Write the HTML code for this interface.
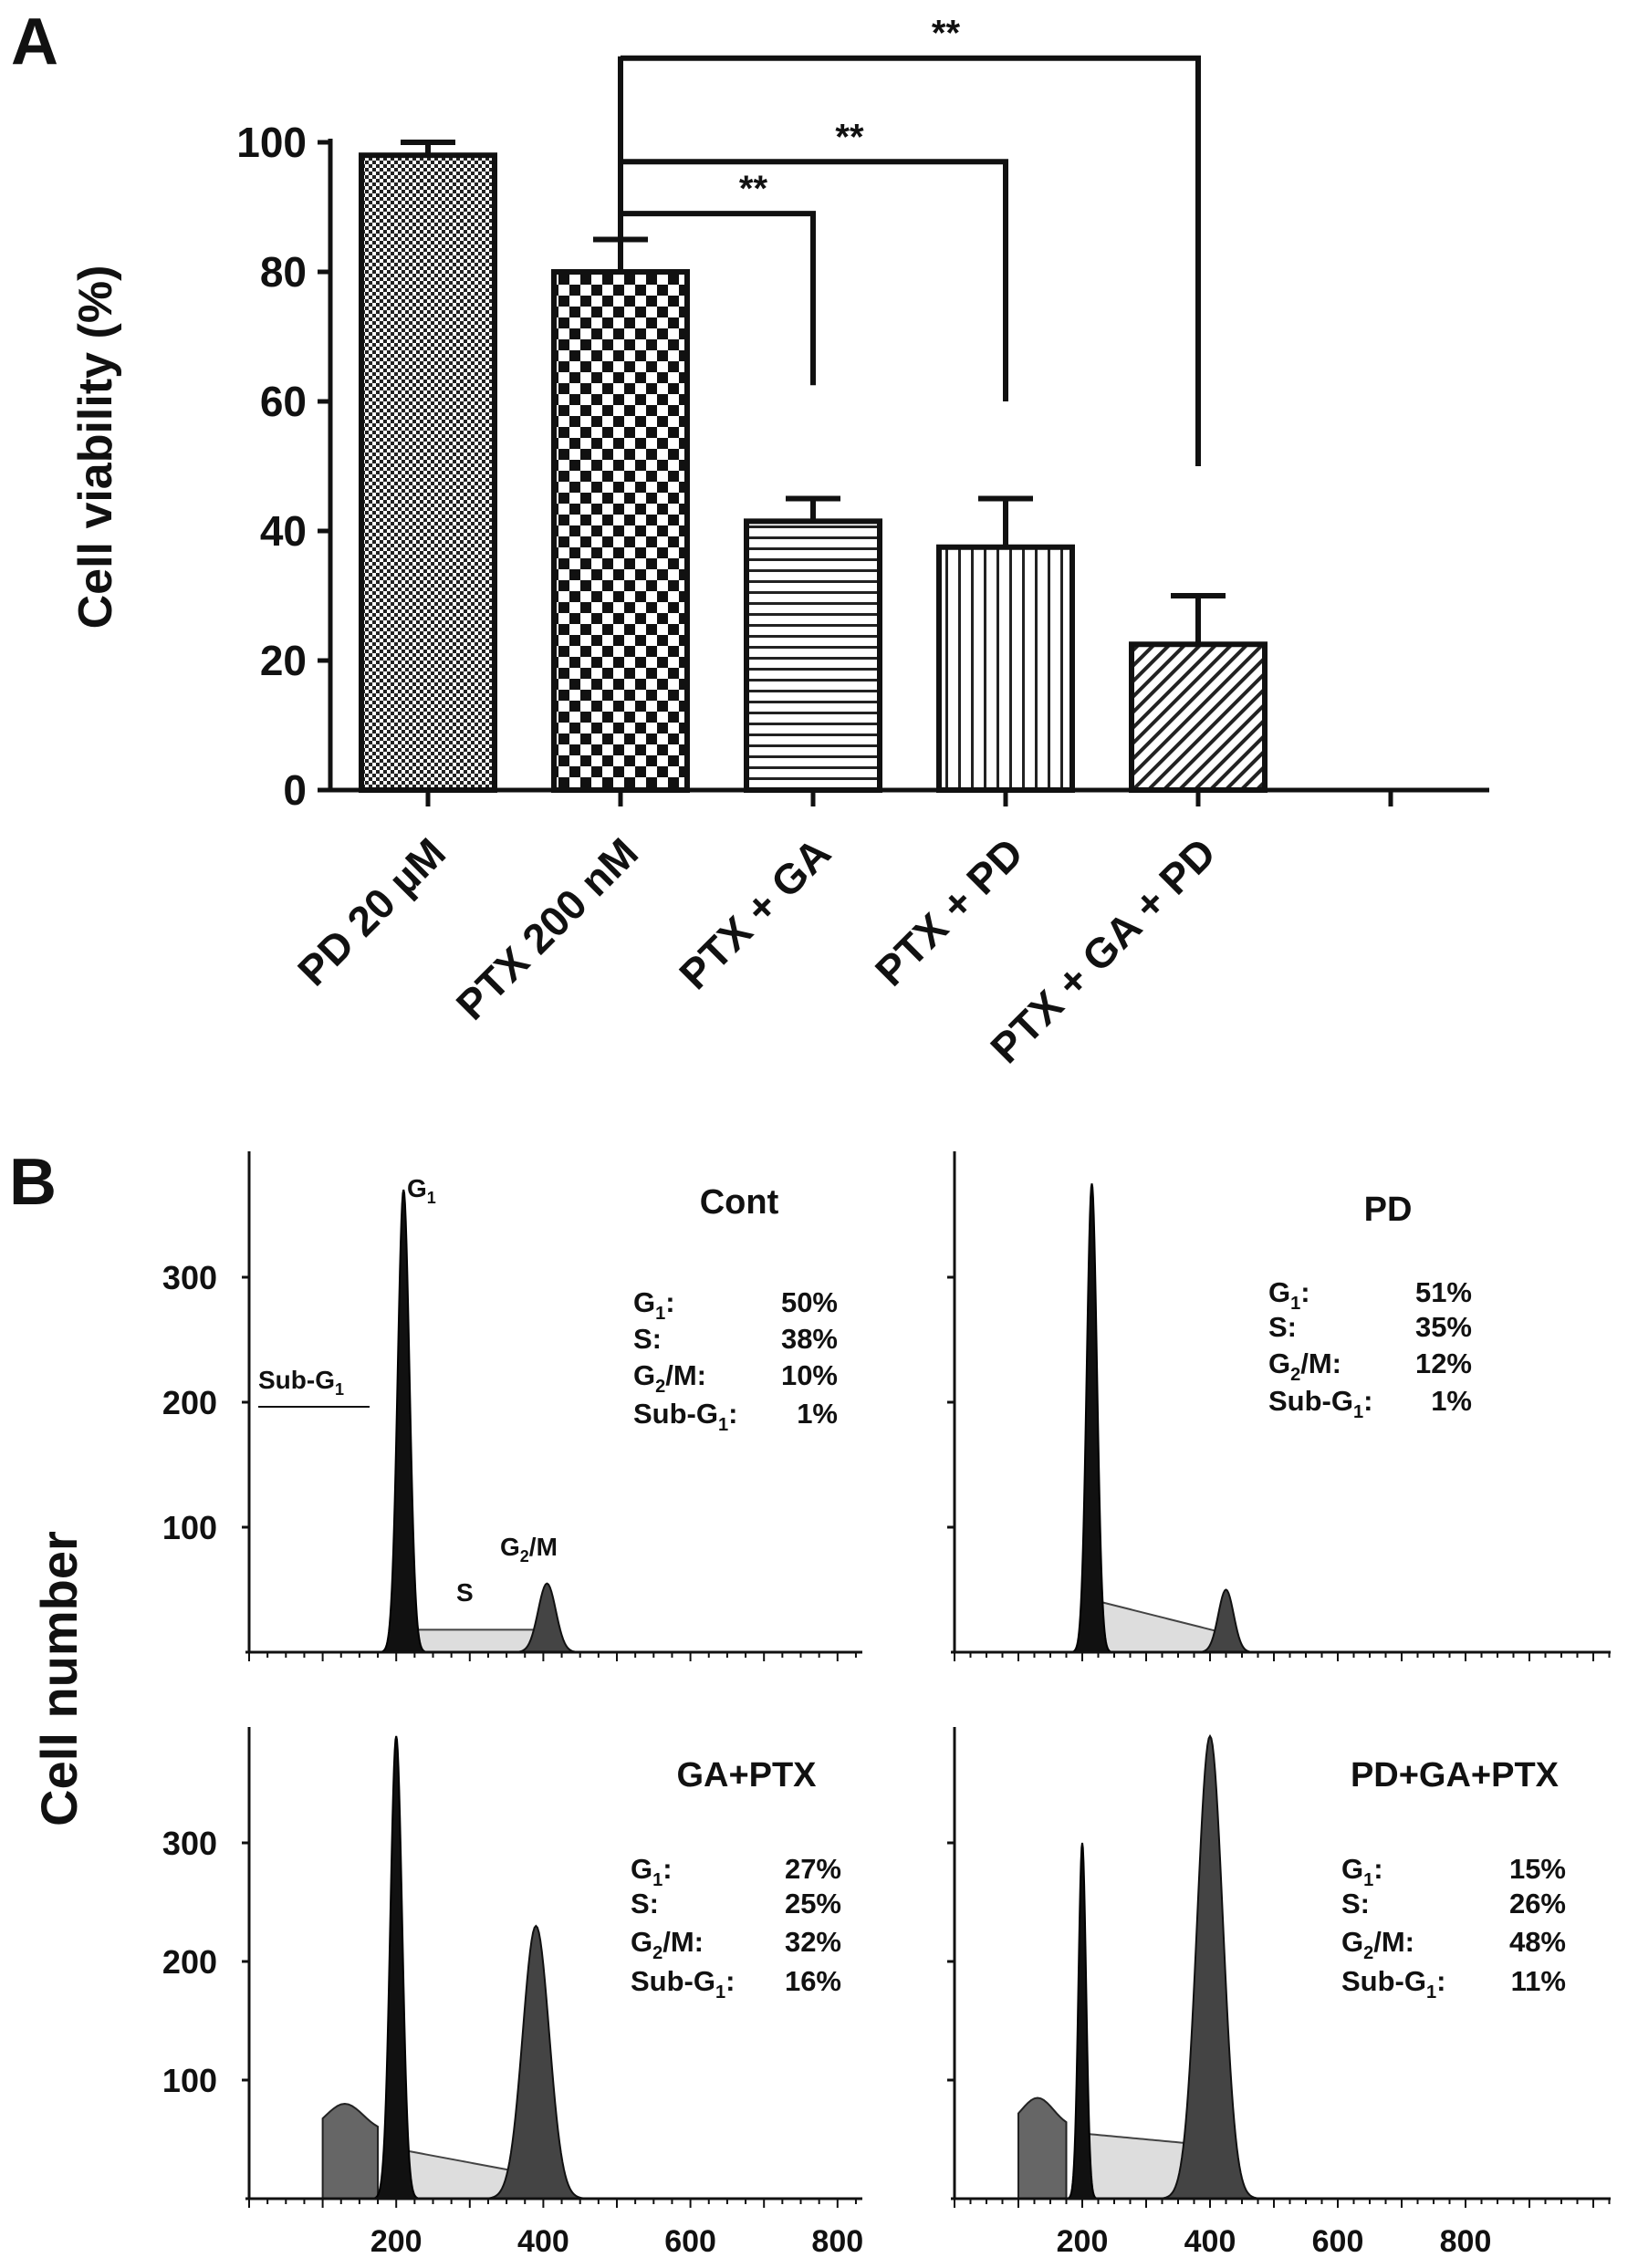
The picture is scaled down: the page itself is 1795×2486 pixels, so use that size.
<!DOCTYPE html>
<html><head><meta charset="utf-8"><style>
html,body{margin:0;padding:0;background:#fff}
svg{display:block}
text{font-family:"Liberation Sans",Arial,sans-serif;font-weight:bold;fill:#111}
</style></head><body>
<svg id="fig" width="1795" height="2486" viewBox="0 0 1795 2486" xmlns="http://www.w3.org/2000/svg">
<defs>
<pattern id="p1" width="8" height="8" patternUnits="userSpaceOnUse"><rect width="8" height="8" fill="#fff"/><rect width="4" height="4" fill="#222"/><rect x="4" y="4" width="4" height="4" fill="#222"/></pattern>
<pattern id="p2" width="24" height="24" patternUnits="userSpaceOnUse"><rect width="24" height="24" fill="#fff"/><rect width="12" height="12" fill="#111"/><rect x="12" y="12" width="12" height="12" fill="#111"/></pattern>
<pattern id="p3" width="10" height="12" patternUnits="userSpaceOnUse"><rect width="10" height="12" fill="#fff"/><rect y="0" width="10" height="3" fill="#222"/></pattern>
<pattern id="p4" width="14" height="10" patternUnits="userSpaceOnUse"><rect width="14" height="10" fill="#fff"/><rect x="0" width="3" height="10" fill="#222"/></pattern>
<pattern id="p5" width="12" height="12" patternUnits="userSpaceOnUse" patternTransform="rotate(45)"><rect width="12" height="12" fill="#fff"/><rect width="4" height="12" fill="#222"/></pattern>
</defs>
<g id="panelA"></g>
<g id="panelB"></g>
</svg>
<script>
const categories=["PD 20 µM","PTX 200 nM","PTX + GA","PTX + PD","PTX + GA + PD"];
const viability=[98,80,41.5,37.5,22.5];
const errTop=[100,85,45,45,30];
const yTicks=[0,20,40,60,80,100];
const sigTargets=[2,3,4];
const sigEnds=[62.5,60,50];
const sigLevels=[89,97,113];
const sigLabels=["**","**","**"];

const NS="http://www.w3.org/2000/svg";
function el(tag,attrs,parent,txt){const e=document.createElementNS(NS,tag);for(const k in attrs)e.setAttribute(k,attrs[k]);if(txt!==undefined)e.textContent=txt;parent.appendChild(e);return e;}
const A=document.getElementById('panelA');
const y0=866,y100=156,axX=362;
const yS=v=>y0-(v/100)*(y0-y100);
const xS=i=>469+i*211;
const bw=146;
let t=el('text',{x:12,y:70,'font-size':72},A,"A");


let ax=el('line',{x1:axX,y1:y100-4,x2:axX,y2:y0,stroke:'#111','stroke-width':5},A);


ax=el('line',{x1:axX,y1:y0,x2:1632,y2:y0,stroke:'#111','stroke-width':5},A);


yTicks.forEach(v=>{
  el('line',{x1:axX-14,y1:yS(v),x2:axX,y2:yS(v),stroke:'#111','stroke-width':5},A);
  const tt=el('text',{x:axX-26,y:yS(v)+16,'font-size':46,'text-anchor':'end'},A,String(v));
  
  
});
t=el('text',{x:0,y:0,'font-size':52,'text-anchor':'middle',transform:'translate(122,490) rotate(-90)'},A,"Cell viability (%)");


for(let i=0;i<6;i++){el('line',{x1:xS(i),y1:y0,x2:xS(i),y2:y0+18,stroke:'#111','stroke-width':5},A);}
const pats=['p1','p2','p3','p4','p5'];
categories.forEach((c,i)=>{
  const cx=xS(i);
  const b=el('rect',{x:cx-bw/2,y:yS(viability[i]),width:bw,height:y0-yS(viability[i]),fill:'url(#'+pats[i]+')',stroke:'#111','stroke-width':6},A);
  
  
  const e=el('path',{d:`M${cx},${yS(viability[i])} V${yS(errTop[i])} M${cx-30},${yS(errTop[i])} H${cx+30}`,stroke:'#111','stroke-width':6,fill:'none'},A);
  
  
  const l=el('text',{x:0,y:0,'font-size':46,'text-anchor':'end',transform:`translate(${cx+22},${y0+72}) rotate(-45)`},A,c);
  
  
});
const bx=xS(1);
let sv=el('line',{x1:bx,y1:yS(85),x2:bx,y2:yS(113)-2,stroke:'#111','stroke-width':6},A);


sigTargets.forEach((ti,k)=>{
  const tx=xS(ti);
  const p=el('path',{d:`M${bx},${yS(sigLevels[k])} H${tx} V${yS(sigEnds[k])}`,stroke:'#111','stroke-width':6,fill:'none'},A);
  
  
  const s=el('text',{x:(bx+tx)/2+40,y:yS(sigLevels[k])-14,'font-size':40,'text-anchor':'middle'},A,sigLabels[k]);
  
  
});

// Panel B
const panelTitles=["Cont","PD","GA+PTX","PD+GA+PTX"];
const g1Pos=[210,215,200,200];
const g1Height=[370,375,390,300];
const g2Pos=[405,425,390,400];
const g2Height=[55,50,230,390];
const sStart=[18,42,42,55];
const sEnd=[18,15,20,45];
const subG1Height=[3,2,80,85];
const statG1=["50%","51%","27%","15%"];
const statS=["38%","35%","25%","26%"];
const statG2=["10%","12%","32%","48%"];
const statSub=["1%","1%","16%","11%"];
const xTickLabels=[200,400,600,800];
const yTickLabelsB=[100,200,300];

const B=document.getElementById('panelB');
t=el('text',{x:10,y:1320,'font-size':72},B,"B");


t=el('text',{x:0,y:0,'font-size':56,'text-anchor':'middle',transform:'translate(84,1840) rotate(-90)'},B,"Cell number");


const geo=[
 {ax:273,base:1811,top:1262,per100:137,ux:0.806,end:945,lbl:[694,918],ly:[1438,1478,1518,1560],title:[810,1330],ticks:false},
 {ax:1046,base:1811,top:1262,per100:137,ux:0.70,end:1765,lbl:[1390,1613],ly:[1427,1465,1505,1546],title:[1521,1338],ticks:false},
 {ax:273,base:2410,top:1893,per100:130,ux:0.806,end:945,lbl:[691,922],ly:[2059,2097,2139,2182],title:[818,1958],ticks:true},
 {ax:1046,base:2410,top:1893,per100:130,ux:0.70,end:1765,lbl:[1470,1716],ly:[2059,2097,2139,2182],title:[1594,1958],ticks:true}];
function gauss(x,m,s){return Math.exp(-0.5*((x-m)/s)**2);}
geo.forEach((g,i)=>{
  const G=el('g',{},B);
  
  
  const X=v=>g.ax+v*g.ux, Y=v=>g.base-v*g.per100/100;
  const sg1w=i>=3?6:8, sg2w=i>=2?(i==3?20:18):12;
  let sp=`M${X(g1Pos[i])},${Y(0)}`;
  for(let v=g1Pos[i];v<=g2Pos[i];v+=5){const f=(v-g1Pos[i])/(g2Pos[i]-g1Pos[i]);sp+=` L${X(v)},${Y(sStart[i]+(sEnd[i]-sStart[i])*f)}`;}
  sp+=` L${X(g2Pos[i])},${Y(0)}Z`;
  el('path',{d:sp,fill:'#ddd',stroke:'#444','stroke-width':2},G);
  if(subG1Height[i]>5){
    let p=`M${X(100)},${Y(0)}`;
    for(let v=100;v<=175;v+=5){p+=` L${X(v)},${Y(subG1Height[i]*(0.7+0.3*gauss(v,130,25)))}`;}
    p+=` L${X(175)},${Y(0)}Z`;
    el('path',{d:p,fill:'#666',stroke:'#222','stroke-width':2},G);
  }
  let p2=`M${X(g2Pos[i]-4*sg2w)},${Y(0)}`;
  for(let v=g2Pos[i]-4*sg2w;v<=g2Pos[i]+4*sg2w;v+=2){p2+=` L${X(v)},${Y(g2Height[i]*gauss(v,g2Pos[i],sg2w))}`;}
  p2+=' Z';
  el('path',{d:p2,fill:'#444',stroke:'#111','stroke-width':2},G);
  let p1=`M${X(g1Pos[i]-4*sg1w)},${Y(0)}`;
  for(let v=g1Pos[i]-4*sg1w;v<=g1Pos[i]+4*sg1w;v+=1){p1+=` L${X(v)},${Y(g1Height[i]*gauss(v,g1Pos[i],sg1w))}`;}
  p1+=' Z';
  el('path',{d:p1,fill:'#111',stroke:'#000','stroke-width':2},G);
  el('line',{x1:g.ax,y1:g.top,x2:g.ax,y2:g.base,stroke:'#111','stroke-width':3},G);
  el('line',{x1:g.ax-4,y1:g.base,x2:g.end,y2:g.base,stroke:'#111','stroke-width':3},G);
  for(let v=0;g.ax+v*g.ux<=g.end;v+=25){el('line',{x1:X(v),y1:g.base,x2:X(v),y2:g.base+(v%100==0?10:6),stroke:'#111','stroke-width':2},G);}
  yTickLabelsB.forEach(v=>{
    el('line',{x1:g.ax-8,y1:Y(v),x2:g.ax,y2:Y(v),stroke:'#111','stroke-width':3},G);
    if(i%2==0){const tt=el('text',{x:g.ax-35,y:Y(v)+13,'font-size':36,'text-anchor':'end'},G,String(v));
      
      }
  });
  if(g.ticks){xTickLabels.forEach(v=>{const tt=el('text',{x:X(v),y:g.base+58,'font-size':34,'text-anchor':'middle'},G,String(v));
    
    });}
  const ti=el('text',{x:g.title[0],y:g.title[1],'font-size':38,'text-anchor':'middle'},G,panelTitles[i]);
  
  
  const labs=[["G","1",":"],["S:","",""],["G","2","/M:"],["Sub-G","1",":"]];
  const vals=[statG1[i],statS[i],statG2[i],statSub[i]];
  labs.forEach((l,k)=>{
    const tx=el('text',{x:g.lbl[0],y:g.ly[k],'font-size':31},G);
    
    
    el('tspan',{},tx,l[0]);
    if(l[1]){el('tspan',{dy:8,'font-size':20},tx,l[1]);el('tspan',{dy:-8},tx,l[2]);}
    const tv=el('text',{x:g.lbl[1],y:g.ly[k],'font-size':31,'text-anchor':'end'},G,vals[k]);
    
    
  });
  if(i==0){
    const a=el('text',{x:446,y:1312,'font-size':28},G);el('tspan',{},a,"G");el('tspan',{dy:7,'font-size':18},a,"1");
    
    
    const b=el('text',{x:283,y:1522,'font-size':28},G);el('tspan',{},b,"Sub-G");el('tspan',{dy:7,'font-size':18},b,"1");
    
    
    el('line',{x1:283,y1:1542,x2:405,y2:1542,stroke:'#111','stroke-width':2},G);
    const c=el('text',{x:500,y:1755,'font-size':28},G,"S");
    
    
    const d=el('text',{x:548,y:1705,'font-size':28},G);el('tspan',{},d,"G");el('tspan',{dy:7,'font-size':18},d,"2");el('tspan',{dy:-7},d,"/M");
    
    
  }
});
</script>
</body></html>
